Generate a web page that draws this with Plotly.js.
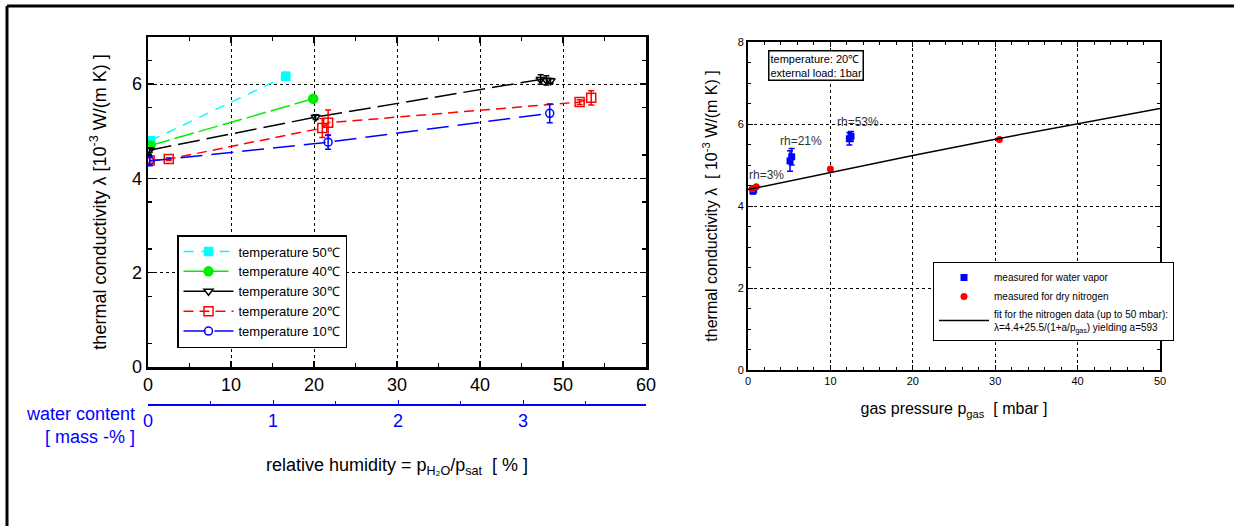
<!DOCTYPE html>
<html><head><meta charset="utf-8">
<script src="https://cdn.plot.ly/plotly-3.0.1.min.js"></script>
<style>html,body{margin:0;padding:0;background:#fff}#chart{width:1234px;height:526px}</style>
</head><body><div id="chart"></div>
<script>
// ---- Left chart: thermal conductivity vs relative humidity ----
const t50_rh  = [0.3, 16.6];
const t50_lam = [4.80, 6.17];
const t50_err = [0.08, 0.08];

const t40_rh  = [0.3, 19.9];
const t40_lam = [4.70, 5.69];
const t40_err = [0.06, 0.06];

const t30_rh  = [0.2, 20.2, 47.3, 48.0, 48.5];
const t30_lam = [4.60, 5.30, 6.10, 6.08, 6.07];
const t30_err = [0.05, 0.05, 0.10, 0.10, 0.05];

const t20_rh  = [0.2, 2.5, 21.0, 21.7, 52.0, 53.4];
const t20_lam = [4.38, 4.41, 5.07, 5.18, 5.62, 5.71];
const t20_err = [0.06, 0.03, 0.20, 0.27, 0.05, 0.15];

const t10_rh  = [0.2, 21.7, 48.4];
const t10_lam = [4.37, 4.77, 5.38];
const t10_err = [0.10, 0.15, 0.20];

// water content axis (mass-%) matching relative humidity 0..60 %
const waterRange = [0, 3.984];
const waterTicks = [0, 1, 2, 3];

// ---- Right chart: thermal conductivity vs gas pressure ----
const vapor_p   = [0.6, 0.7, 5.1, 5.3, 12.3, 12.5];
const vapor_lam = [4.37, 4.41, 5.10, 5.20, 5.64, 5.70];
const vapor_err = [0.08, 0.08, 0.25, 0.20, 0.15, 0.12];

const n2_p   = [0.5, 1.0, 10.0, 30.5];
const n2_lam = [4.42, 4.47, 4.90, 5.62];

const fit_p   = [0, 10, 20, 30, 40, 50];
const fit_lam = [4.40, 4.82, 5.23, 5.63, 6.01, 6.38];

const rhLabels = ["rh=3%", "rh=21%", "rh=53%"];
const rhLabel_p = [2.2, 6.4, 13.3];
const rhLabel_lam = [4.76, 5.59, 6.05];

const FONT = "Liberation Sans, Arial, sans-serif";

function series(x, y, err, name, color, symbol, size, dash) {
  return {
    x: x, y: y, name: name, type: 'scatter', mode: 'lines+markers',
    xaxis: 'x', yaxis: 'y', legend: 'legend',
    line: {color: color, width: 1.5, dash: dash},
    marker: {color: color, symbol: symbol, size: size, line: {color: color, width: 1.5}},
    error_y: {type: 'data', array: err, visible: true, color: color, thickness: 1.5, width: 3},
    hoverinfo: 'skip'
  };
}

const traces = [
  series(t50_rh, t50_lam, t50_err, 'temperature 50\u2103', '#00ffff', 'square', 8, '10px,8px'),
  series(t40_rh, t40_lam, t40_err, 'temperature 40\u2103', '#00ee00', 'circle', 9, '20px,5px'),
  series(t30_rh, t30_lam, t30_err, 'temperature 30\u2103', '#000000', 'triangle-down-open', 8, '22px,7px'),
  series(t20_rh, t20_lam, t20_err, 'temperature 20\u2103', '#ff0000', 'square-open', 9, '10px,6px'),
  series(t10_rh, t10_lam, t10_err, 'temperature 10\u2103', '#0000ff', 'circle-open', 8, '22px,9px'),
  {x: waterRange, y: [0, 0], xaxis: 'x3', yaxis: 'y', mode: 'markers', marker: {opacity: 0}, showlegend: false, hoverinfo: 'skip'},
  {x: vapor_p, y: vapor_lam, name: 'measured for water vapor', type: 'scatter', mode: 'markers',
   xaxis: 'x2', yaxis: 'y2', legend: 'legend2',
   marker: {color: '#0000ff', symbol: 'square', size: 7},
   error_y: {type: 'data', array: vapor_err, visible: true, color: '#0000ff', thickness: 1.5, width: 3}, hoverinfo: 'skip'},
  {x: n2_p, y: n2_lam, name: 'measured for dry nitrogen', type: 'scatter', mode: 'markers',
   xaxis: 'x2', yaxis: 'y2', legend: 'legend2',
   marker: {color: '#ff0000', symbol: 'circle', size: 7}, hoverinfo: 'skip'},
  {x: fit_p, y: fit_lam, name: 'fit for the nitrogen data (up to 50 mbar):<br>\u03bb=4.4+25.5/(1+a/p<sub>gas</sub>) yielding a=593',
   type: 'scatter', mode: 'lines', xaxis: 'x2', yaxis: 'y2', legend: 'legend2',
   line: {color: '#000000', width: 1.5}, hoverinfo: 'skip'}
];

const gridCommon = {showgrid: true, gridcolor: '#000', griddash: 'dot', gridwidth: 1, zeroline: false,
  showline: true, linecolor: '#000', mirror: 'ticks', ticks: 'inside', tickcolor: '#000'};

const layout = {
  width: 1234, height: 526, margin: {l: 0, r: 0, t: 0, b: 0},
  paper_bgcolor: '#fff', plot_bgcolor: '#fff',
  font: {family: FONT, color: '#000'},
  showlegend: true,
  xaxis: Object.assign({}, gridCommon, {
    domain: [148/1234, 646/1234], anchor: 'y', range: [0, 60], dtick: 10, tick0: 0,
    linewidth: 2.5, ticklen: 6, tickwidth: 1.5,
    minor: {dtick: 5, tick0: 0, ticks: 'inside', ticklen: 4, tickcolor: '#000', showgrid: false},
    tickfont: {size: 18}, automargin: false
  }),
  yaxis: Object.assign({}, gridCommon, {
    domain: [1 - 367/526, 1 - 37/526], anchor: 'x', range: [0, 7], dtick: 2, tick0: 0,
    linewidth: 2.5, ticklen: 6, tickwidth: 1.5,
    minor: {dtick: 1, tick0: 0.5, ticks: 'inside', ticklen: 4, tickcolor: '#000', showgrid: false},
    tickfont: {size: 18}, automargin: false,
    title: {text: 'thermal conductivity \u03bb [10<sup>-3</sup> W/(m K) ]', font: {size: 18}, standoff: 21}
  }),
  xaxis3: {
    overlaying: 'x', anchor: 'free', position: 1 - 404/526, side: 'bottom',
    range: waterRange, tickvals: waterTicks, showgrid: false, zeroline: false,
    showline: true, linecolor: '#0000ff', linewidth: 1.5,
    ticks: 'inside', ticklen: 4, tickcolor: '#0000ff', tickwidth: 1,
    minor: {dtick: 0.5, tick0: 0, ticks: 'inside', ticklen: 3, tickcolor: '#0000ff', showgrid: false},
    tickfont: {size: 18, color: '#0000ff'}, automargin: false,
    title: {text: 'relative humidity = p<sub>H\u2082O</sub>/p<sub>sat</sub>  [ % ]', font: {size: 18, color: '#000'}, standoff: 28}
  },
  xaxis2: Object.assign({}, gridCommon, {
    domain: [748/1234, 1160/1234], anchor: 'y2', range: [0, 50], dtick: 10, tick0: 0,
    linewidth: 2, ticklen: 5, tickwidth: 1,
    minor: {dtick: 2, tick0: 0, ticks: 'inside', ticklen: 3, tickcolor: '#000', showgrid: false},
    tickfont: {size: 11}, automargin: false,
    title: {text: 'gas pressure p<sub>gas</sub>  [ mbar ]', font: {size: 16}, standoff: 17}
  }),
  yaxis2: Object.assign({}, gridCommon, {
    domain: [1 - 370/526, 1 - 42/526], anchor: 'x2', range: [0, 8], dtick: 2, tick0: 0,
    linewidth: 2, ticklen: 5, tickwidth: 1,
    minor: {dtick: 0.5, tick0: 0, ticks: 'inside', ticklen: 3, tickcolor: '#000', showgrid: false},
    tickfont: {size: 11}, automargin: false,
    title: {text: 'thermal conductivity \u03bb  [ 10<sup>-3</sup> W/(m K) ]', font: {size: 16}, standoff: 16}
  }),
  legend: {
    x: 177/1234, y: 1 - 235/526, xanchor: 'left', yanchor: 'top',
    bgcolor: '#fff', bordercolor: '#000', borderwidth: 1.5,
    font: {size: 13, family: FONT}, tracegroupgap: 0, itemwidth: 50
  },
  legend2: {
    x: 933/1234, y: 1 - 262/526, xanchor: 'left', yanchor: 'top',
    bgcolor: '#fff', bordercolor: '#000', borderwidth: 1,
    font: {size: 10, family: FONT}, tracegroupgap: 0, itemwidth: 50
  },
  annotations: [
    {xref: 'paper', yref: 'paper', x: 137/1234, y: 1 - 414/526, xanchor: 'right', yanchor: 'middle',
     text: 'water content', showarrow: false, font: {size: 18, color: '#0000ff'}},
    {xref: 'paper', yref: 'paper', x: 137/1234, y: 1 - 437/526, xanchor: 'right', yanchor: 'middle',
     text: '[ mass -% ]', showarrow: false, font: {size: 18, color: '#0000ff'}},
    {xref: 'paper', yref: 'paper', x: 768/1234, y: 1 - 50/526, xanchor: 'left', yanchor: 'top', align: 'left',
     text: 'temperature: 20\u2103<br>external load: 1bar', showarrow: false,
     font: {size: 11, color: '#000'}, bordercolor: '#000', borderwidth: 1.5, borderpad: 1, bgcolor: '#fff'}
  ].concat(rhLabels.map((t, i) => ({
     xref: 'x2', yref: 'y2', x: rhLabel_p[i], y: rhLabel_lam[i], text: t, showarrow: false,
     font: {size: 12, color: '#333'}
  }))),
  shapes: [
    {type: 'line', xref: 'paper', yref: 'paper', x0: 7/1234, x1: 1, y0: 1 - 6/526, y1: 1 - 6/526, line: {color: '#000', width: 3}},
    {type: 'line', xref: 'paper', yref: 'paper', x0: 7/1234, x1: 7/1234, y0: 1 - 6/526, y1: 0, line: {color: '#000', width: 3}}
  ]
};

Plotly.newPlot('chart', traces, layout, {displayModeBar: false, staticPlot: true});
</script>
</body></html>
